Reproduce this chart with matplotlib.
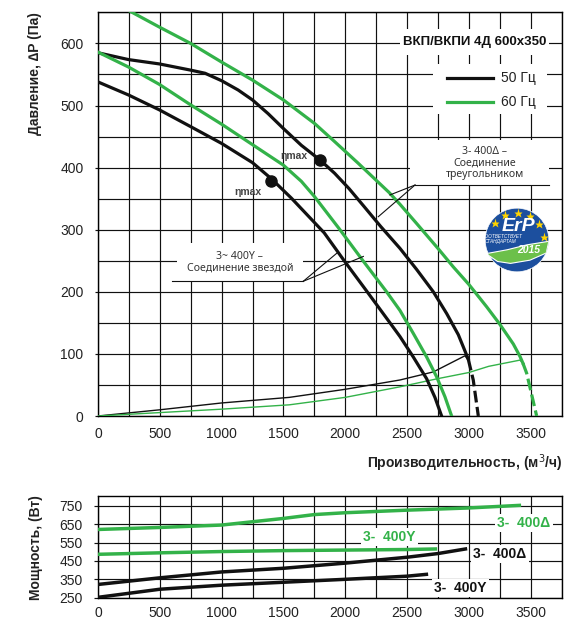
import matplotlib
matplotlib.use('Agg')
import matplotlib.pyplot as plt
from matplotlib.patches import Rectangle, Circle, Polygon
from matplotlib.ticker import MultipleLocator
import numpy as np

plt.rcParams['font.family'] = ['Liberation Sans', 'DejaVu Sans']

# ---------------- data (top chart: pressure vs airflow) ----------------
q_50Y = [0, 247, 497, 750, 1000, 1250, 1403, 1564, 1830, 1992, 2167, 2355, 2443, 2551, 2659, 2726, 2780]
p_50Y = [538, 517, 493, 466, 439, 408, 382, 351, 295, 250, 203, 152, 128, 95, 60, 30, 0]

q_50D = [0, 247, 497, 750, 866, 1000, 1134, 1250, 1376, 1500, 1645, 1798, 1914, 2032, 2150, 2288,
         2443, 2578, 2713, 2821, 2915, 2995]
p_50D = [585, 574, 567, 557, 552, 540, 525, 509, 487, 463, 436, 412, 391, 366, 338, 305,
         270, 236, 200, 165, 131, 92]
q_50D_dash = [2995, 3036, 3077]
p_50D_dash = [92, 58, 0]

q_60Y = [0, 247, 497, 750, 1000, 1250, 1500, 1645, 1753, 1950, 2144, 2335, 2443, 2551, 2659, 2740, 2807, 2861]
p_60Y = [586, 562, 534, 501, 470, 437, 404, 378, 353, 302, 250, 200, 170, 133, 95, 63, 31, 0]

q_60D = [230, 500, 750, 1000, 1250, 1500, 1753, 1914, 2100, 2355, 2443, 2578, 2750, 2875, 3000,
         3144, 3250, 3360, 3414, 3438]
p_60D = [655, 626, 600, 570, 541, 509, 471, 442, 408, 360, 341, 310, 270, 240, 212,
         176, 148, 116, 96, 85]
q_60D_dash = [3438, 3468, 3549]
p_60D_dash = [85, 69, 0]

q_sys50 = [0, 500, 1000, 1548, 2000, 2443, 2713, 2969, 2995]
p_sys50 = [0, 10, 21, 30, 43, 58, 71, 97, 90]
q_sys60 = [0, 1000, 1548, 2000, 2443, 2745, 3000, 3161, 3414, 3438]
p_sys60 = [0, 11, 18, 30, 47, 60, 70, 80, 90, 85]

eta_q = [1403, 1798]
eta_p = [379, 412]

# ---------------- data (bottom chart: power vs airflow) ----------------
qw_60D = [0, 500, 1000, 1250, 1500, 1750, 2000, 2500, 3000, 3409]
w_60D = [621, 632, 645, 663, 681, 702, 712, 726, 738, 752]
qw_60Y = [0, 500, 1000, 1500, 2000, 2500, 2730]
w_60Y = [486, 494, 501, 506, 509, 512, 515]
qw_50D = [0, 500, 1000, 1500, 2000, 2500, 2750, 2973]
w_50D = [322, 358, 390, 410, 438, 470, 490, 515]
qw_50Y = [0, 500, 1000, 1500, 2000, 2500, 2657]
w_50Y = [252, 296, 318, 334, 350, 367, 377]

x_ticks = [0, 500, 1000, 1500, 2000, 2500, 3000, 3500]
p_ticks = [0, 100, 200, 300, 400, 500, 600]
w_ticks = [250, 350, 450, 550, 650, 750]

GREEN = '#33b249'
BLACK = '#111111'
TXT = '#222222'

W, H = 586, 625
fig = plt.figure(figsize=(5.86, 6.25), dpi=100)


def fx(px):
    return px / W


def fy(py):
    return 1 - py / H


def style_axes(a):
    for s in a.spines.values():
        s.set_color('black')
        s.set_linewidth(1.0)
    a.set_axisbelow(True)
    a.grid(which='both', color='#111111', lw=0.85)
    a.tick_params(which='minor', length=0)
    a.tick_params(axis='both', which='major', labelsize=10, labelcolor=TXT, color='#111111', width=0.85)


# ---------------- top axes ----------------
ax = fig.add_axes([fx(98), fy(416), (561.5 - 98) / W, (416 - 12.4) / H])
ax.set_xlim(0, 3750)
ax.set_ylim(0, 650)
ax.set_xticks(x_ticks)
ax.set_yticks(p_ticks)
ax.xaxis.set_minor_locator(MultipleLocator(250))
ax.yaxis.set_minor_locator(MultipleLocator(50))
style_axes(ax)
ax.tick_params(axis='x', which='major', length=0, pad=8)
ax.tick_params(axis='y', which='major', length=2.5, pad=8)

LW = 2.3
ax.plot(q_sys50, p_sys50, color=BLACK, lw=1.0, zorder=3)
ax.plot(q_sys60, p_sys60, color=GREEN, lw=1.0, zorder=3)
ax.plot(q_50Y, p_50Y, color=BLACK, lw=LW, zorder=4, solid_joinstyle='round')
ax.plot(q_50D, p_50D, color=BLACK, lw=LW, zorder=4, solid_joinstyle='round')
ax.plot(q_50D_dash, p_50D_dash, color=BLACK, lw=LW, ls=(0, (3.7, 1.4)), zorder=4)
ax.plot(q_60Y, p_60Y, color=GREEN, lw=LW, zorder=4, solid_joinstyle='round')
ax.plot(q_60D, p_60D, color=GREEN, lw=LW, zorder=4, solid_joinstyle='round')
ax.plot(q_60D_dash, p_60D_dash, color=GREEN, lw=LW, ls=(0, (3.7, 1.4)), zorder=4)
ax.plot(eta_q, eta_p, 'o', color=BLACK, ms=8, zorder=5)

ax.text(1214, 360, 'ηmax', fontsize=7.5, fontweight='bold', color='#444444', ha='center', va='center', zorder=5)
ax.text(1588, 418, 'ηmax', fontsize=7.5, fontweight='bold', color='#444444', ha='center', va='center', zorder=5)

# title box
ax.add_patch(Rectangle((2443, 581), 3649 - 2443, 623 - 581, facecolor='white', edgecolor='none', zorder=1.5))
ax.text(3046, 602, 'ВКП/ВКПИ 4Д 600x350', fontsize=9.5, fontweight='bold', color='#111111',
        ha='center', va='center', zorder=5)
# legend box
ax.add_patch(Rectangle((2710, 486), 3633 - 2710, 567 - 486, facecolor='white', edgecolor='none', zorder=1.5))
ax.plot([2826, 3198], [545, 545], color=BLACK, lw=LW, zorder=5)
ax.plot([2826, 3198], [506, 506], color=GREEN, lw=LW, zorder=5)
ax.text(3260, 545, '50 Гц', fontsize=10, color=TXT, ha='left', va='center', zorder=5)
ax.text(3260, 506, '60 Гц', fontsize=10, color=TXT, ha='left', va='center', zorder=5)

# delta annotation
ax.add_patch(Rectangle((2525, 372), 3650 - 2525, 444 - 372, facecolor='white', edgecolor='none', zorder=1.5))
ax.plot([2565, 3650], [372, 372], color=BLACK, lw=0.8, zorder=5)
ax.plot([2565, 2268], [372, 321], color=BLACK, lw=0.8, zorder=5)
ax.plot([2565, 2362], [372, 356], color=BLACK, lw=0.8, zorder=5)
ax.text(3130, 408, '3- 400Δ –\nСоединение\nтреугольником', fontsize=7.6, color='#333333',
        family=['Noto Sans', 'DejaVu Sans'], ha='center', va='center', linespacing=1.05, zorder=5)

# star annotation
ax.add_patch(Rectangle((640, 217), 1661 - 640, 278 - 217, facecolor='white', edgecolor='none', zorder=1.5))
ax.plot([596, 1661], [217, 217], color=BLACK, lw=0.8, zorder=5)
ax.plot([1661, 1931], [217, 262], color=BLACK, lw=0.8, zorder=5)
ax.plot([1661, 2147], [217, 257], color=BLACK, lw=0.8, zorder=5)
ax.text(1148, 248, '3~ 400Y –\nСоединение звездой', fontsize=7.6, color='#333333',
        family=['Noto Sans', 'DejaVu Sans'], ha='center', va='center', linespacing=1.05, zorder=5)

fig.text(fx(35), fy(12), 'Давление, ∆P (Па)', rotation=90, ha='center', va='top',
         fontsize=10, fontweight='bold', color=TXT)
fig.text(fx(563), fy(463), 'Производительность, (м$^3$/ч)', ha='right', va='center',
         fontsize=10, fontweight='bold', color=TXT)

# ---------------- ErP logo ----------------
lg = fig.add_axes([fx(484.5), fy(272.5), 65 / W, 65 / H])
lg.set_xlim(-1, 1)
lg.set_ylim(-1, 1)
lg.axis('off')
circ = Circle((0, 0), 0.98, facecolor='#1c4f9e', edgecolor='white', lw=0.5)
lg.add_patch(circ)
leaf = Polygon([(-0.95, -0.42), (-0.3, -0.3), (0.3, -0.15), (0.98, -0.04),
                (0.9, -0.4), (0.4, -0.62), (-0.2, -0.72), (-0.6, -0.66)], closed=True,
               facecolor='#6cc04a', edgecolor='white', lw=0.8)
lg.add_patch(leaf)
leaf.set_clip_path(circ)
ang = np.deg2rad([142, 115, 88, 62, 36, 7])
lg.plot(0.84 * np.cos(ang), 0.84 * np.sin(ang), '*', color='#ffd400', ms=6.5, mec='none')
lg.text(0.05, 0.42, 'ErP', fontsize=14, fontweight='bold', fontstyle='italic', color='white',
        ha='center', va='center')
lg.text(-0.45, 0.1, 'СООТВЕТСТВУЕТ', fontsize=3.4, fontstyle='italic', color='white', ha='center', va='center')
lg.text(-0.5, -0.05, 'СТАНДАРТАМ', fontsize=3.4, fontstyle='italic', color='white', ha='center', va='center')
lg.text(0.37, -0.3, '2015', fontsize=7.5, fontweight='bold', fontstyle='italic', color='white',
        ha='center', va='center')

# ---------------- bottom axes ----------------
bx = fig.add_axes([fx(98), fy(597.7), (561.5 - 98) / W, (597.7 - 496) / H])
bx.set_xlim(0, 3750)
bx.set_ylim(250, 803)
bx.set_xticks(x_ticks)
bx.set_yticks(w_ticks)
bx.xaxis.set_minor_locator(MultipleLocator(250))
style_axes(bx)
bx.tick_params(axis='x', which='major', length=0, pad=6)
bx.tick_params(axis='y', which='major', length=3, pad=8)

LW2 = 2.5
bx.plot(qw_60D, w_60D, color=GREEN, lw=LW2, zorder=4, solid_joinstyle='round')
bx.plot(qw_60Y, w_60Y, color=GREEN, lw=LW2, zorder=4, solid_joinstyle='round')
bx.plot(qw_50D, w_50D, color=BLACK, lw=LW2, zorder=4, solid_joinstyle='round')
bx.plot(qw_50Y, w_50Y, color=BLACK, lw=LW2, zorder=4, solid_joinstyle='round')

bb = dict(facecolor='white', edgecolor='none', pad=1.5)
bx.text((524 - 98) / 0.1236, 250 + (597.7 - 522.7) / 0.184, '3-  400Δ', fontsize=10, fontweight='bold',
        color=GREEN, ha='center', va='center', bbox=bb, zorder=5)
bx.text((389.5 - 98) / 0.1236, 250 + (597.7 - 537.3) / 0.184, '3-  400Y', fontsize=10, fontweight='bold',
        color=GREEN, ha='center', va='center', bbox=bb, zorder=5)
bx.text((500 - 98) / 0.1236, 250 + (597.7 - 554) / 0.184, '3-  400Δ', fontsize=10, fontweight='bold',
        color=BLACK, ha='center', va='center', bbox=bb, zorder=5)
bx.text((460.7 - 98) / 0.1236, 250 + (597.7 - 588.3) / 0.184, '3-  400Y', fontsize=10, fontweight='bold',
        color=BLACK, ha='center', va='center', bbox=bb, zorder=5)

fig.text(fx(35.6), fy(548), 'Мощность, (Вт)', rotation=90, ha='center', va='center',
         fontsize=10, fontweight='bold', color=TXT)

fig.savefig('out.png', dpi=100, facecolor='white')
